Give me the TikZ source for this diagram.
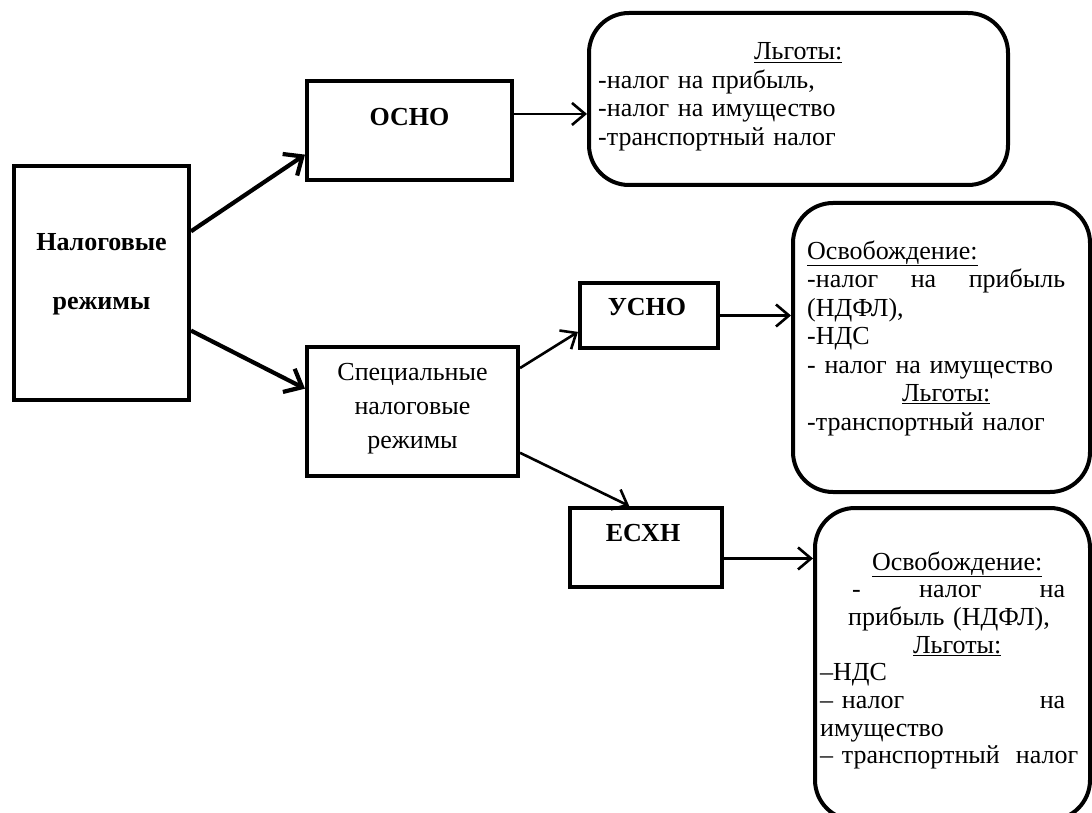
\documentclass[tikz,border=0pt]{standalone}
\usepackage{fontspec}
\setmainfont{Liberation Serif}
\usetikzlibrary{arrows.meta}

\begin{document}
\begin{tikzpicture}[
    x=1pt, y=-1pt,
    frame/.style = {
        draw, line width=4pt, inner sep=0pt
    },
    roundframe/.style = {
        draw, line width=4pt, rounded corners=40pt, inner sep=0pt
    },
    title/.style = {
        font=\fontsize{26}{30}\selectfont\bfseries, align=center, inner sep=0pt
    },
    plain/.style = {
        font=\fontsize{26}{34}\selectfont, align=center, inner sep=0pt
    },
    list/.style = {
        font=\fontsize{26}{28.5}\selectfont, align=left, inner sep=0pt,
        anchor=base west
    },
    arr/.style = {-{Straight Barb[length=13pt, width=22pt]}, line width=2.6pt},
    bigarr/.style = {-{Straight Barb[length=15pt, width=26pt]}, line width=4.2pt},
]

\useasboundingbox (0,0) rectangle (1092,813);
\clip (0,0) rectangle (1092,813);

%% ── Regime boxes ─────────────────────────────────────────────────────
\node[frame, minimum width=175pt, minimum height=234pt] (nal) at (101.5,283) {};
\node[frame, minimum width=205pt, minimum height=99pt] (osno) at (409.5,130.5) {};
\node[frame, minimum width=211pt, minimum height=129pt] (spec) at (412.5,411.5) {};
\node[frame, minimum width=138pt, minimum height=65pt] (usno) at (649,315.5) {};
\node[frame, minimum width=152pt, minimum height=79pt] (ecxh) at (646,547.5) {};

\node[title] (naltext) at (101.5,274) {Налоговые\\[29pt]режимы};
\node[title] (osnotext) at (409.5,117) {ОСНО};
\node[title] (usnotext) at (647,307) {УСНО};
\node[title] (ecxhtext) at (643,533) {ЕСХН};
\node[plain] (spectext) at (412.5,409) {Специальные\\налоговые\\режимы};

%% ── Benefit boxes (rounded) ──────────────────────────────────────────
\node[roundframe, minimum width=419pt, minimum height=172pt]
  (lgot) at (798.5,99) {};
\node[roundframe, minimum width=297pt, minimum height=289pt]
  (usnoinfo) at (941.5,347.5) {};
\node[roundframe, minimum width=275pt, minimum height=312pt]
  (ecxhinfo) at (952.5,664) {};

\node[list, text width=400pt] (lgottext) at (598,60)
  {\makebox[\linewidth]{\underline{Льготы:}}\\
   -налог на прибыль,\\
   -налог на имущество\\
   -транспортный налог};

\node[list, text width=278pt] (usnotextlist) at (807,259)
  {\underline{Освобождение:}\\
   \makebox[258pt][s]{-налог\hfill на\hfill прибыль}\\
   (НДФЛ),\\
   -НДС\\
   - налог на имущество\\
   \makebox[\linewidth]{\underline{Льготы:}}\\
   -транспортный налог};

\node[list, text width=274pt, font=\fontsize{26}{27.7}\selectfont]
  (ecxhtextlist) at (820,570)
  {\makebox[\linewidth]{\underline{Освобождение:}}\\
   \hspace*{32pt}\makebox[213pt][s]{-\hfill налог\hfill на}\\
   \hspace*{28pt}прибыль (НДФЛ),\\
   \makebox[\linewidth]{\underline{Льготы:}}\\
   –НДС\\
   \makebox[245pt][s]{– налог\hfill на}\\
   имущество\\
   \makebox[258pt][s]{– транспортный\hfill налог}};

%% ── Arrows ───────────────────────────────────────────────────────────
\draw[bigarr] (nal.30) -- (osno.193);
\draw[bigarr] (nal.-28) -- (spec.168);

\draw[arr] (osno.9) -- (osno.9 -| lgot.west);
\draw[arr] (spec.22) -- (usno.193);
\draw[arr] (spec.-21) -- (ecxh.112);
\draw[arr] (usno.east) -- (usno.east -| usnoinfo.west);
\draw[arr] (ecxh.-8) -- (ecxh.-8 -| ecxhinfo.west);

\end{tikzpicture}
\end{document}
